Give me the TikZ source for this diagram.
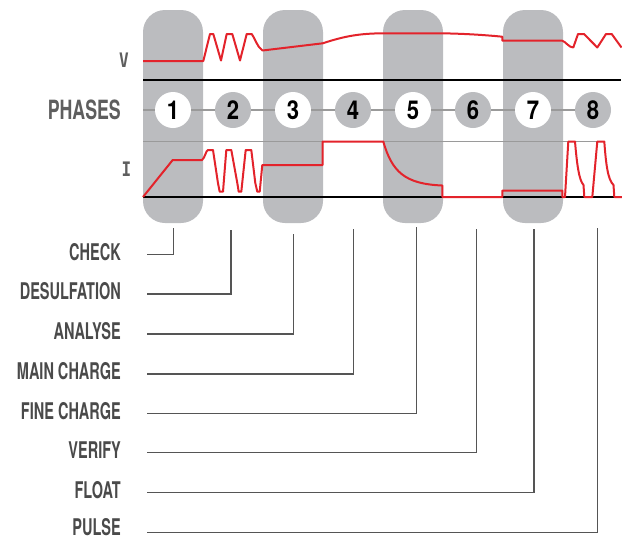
\documentclass[tikz,border=0pt]{standalone}
\usepackage{fontspec}
\newfontfamily\condf[FakeStretch=0.63]{TeX Gyre Heros Bold}
\newfontfamily\condp[FakeStretch=0.67]{TeX Gyre Heros Bold}
\newfontfamily\numf[FakeStretch=0.85]{TeX Gyre Heros Bold}
\newfontfamily\monof[FakeStretch=0.8]{DejaVu Sans Mono Bold}
\definecolor{colgray}{HTML}{BBBCBF}
\definecolor{chred}{HTML}{E3232B}
\definecolor{txtgray}{HTML}{4A4A4A}
\definecolor{phgray}{HTML}{5E5E5E}
\definecolor{thingray}{HTML}{9A9A9A}
\definecolor{leadgray}{HTML}{555555}
\tikzset{
  column/.style={fill=colgray, rounded corners=22pt},
  axisline/.style={black, line width=2pt},
  guide/.style={thingray, line width=1.5pt},
  phase/.style={circle, minimum size=36pt, inner sep=0pt, fill=colgray,
    font=\numf\fontsize{26}{26}\selectfont, text=black},
  oddphase/.style={phase, fill=white},
  curve/.style={chred, line width=2pt, line join=round},
  lab/.style={anchor=base east, inner sep=0pt, text=txtgray,
    font=\condf\fontsize{23}{23}\selectfont},
  axlab/.style={inner sep=0pt, text=phgray, font=\monof\fontsize{20}{20}\selectfont},
  leader/.style={leadgray, line width=1.3pt}
}
\begin{document}
\begin{tikzpicture}[x=1pt,y=-1pt]
\useasboundingbox (0,0) rectangle (622,539);
% columns
\foreach \cx in {143,263,383,503}
  \fill[column] (\cx,10) rectangle ++(60,213);
% axis lines
\draw[axisline] (143,80) -- (621,80);
\draw[guide] (143,110) -- (593,110);
\draw[guide] (143,141.5) -- (604,141.5);
\draw[axisline] (143,197) -- (621,197);
% labels of axes
\node[axlab] (vl) at (124,60) {V};
\node[axlab] (il) at (126.5,169.5) {I};
\node[anchor=east, inner sep=0pt, text=phgray, font=\condp\fontsize{26.5}{26.5}\selectfont] (ph) at (121,110) {PHASES};
% phases
\node[oddphase] (p1) at (173,110) {1};
\node[phase] (p2) at (233,110) {2};
\node[oddphase] (p3) at (293,110) {3};
\node[phase] (p4) at (353,110) {4};
\node[oddphase] (p5) at (413,110) {5};
\node[phase] (p6) at (473,110) {6};
\node[oddphase] (p7) at (533,110) {7};
\node[phase] (p8) at (593,110) {8};
% voltage curve
\draw[curve] (143,61) -- (203.3,61) -- (210,34) -- (213.3,34) -- (221,60.5)
  -- (226.7,34) -- (232.3,34) -- (240,60.5) -- (246.7,34) -- (251.7,34)
  .. controls (255,38) and (257,47) .. (262.5,50.5)
  -- (322.7,43.3) .. controls (345,36) and (360,33.3) .. (385,33.3)
  -- (442,33.3) .. controls (470,33.8) and (490,35.5) .. (502.3,36.7)
  -- (502.3,40.7) -- (562.3,40.7)
  .. controls (566,42) and (569,47.5) .. (573.3,47.5) -- (578,34) -- (584,34)
  -- (597.3,47.5) -- (606,34) -- (611.7,34) -- (621.5,47.5);
% current curve
\draw[curve] (143,197) -- (172.7,160) -- (202,160)
  .. controls (205,158) and (206,150) .. (208,150) -- (213,150)
  -- (218,183.3) -- (219.7,191.7) -- (223,191.7) -- (226.3,150) -- (231.3,150)
  -- (237.3,183) -- (238.7,191.7) -- (241.3,191.7) -- (245.7,150) -- (251.3,150)
  -- (255.3,183) -- (257.3,191.7) -- (259.7,191.7) -- (262.3,165)
  -- (322.7,165) -- (322.7,141.5) -- (383.3,141.5)
  .. controls (392,172) and (405,184) .. (442.3,185.5) -- (442.3,197)
  -- (502.3,197) -- (502.3,190.5) -- (562.3,190.5) -- (562.3,197) -- (565,197)
  -- (568.3,141.5) -- (575,141.5) .. controls (577,165) and (579,180) .. (583.5,185)
  -- (584.3,197) -- (592.3,197) -- (597.3,141.5) -- (604.3,141.5)
  .. controls (606,165) and (608,180) .. (613.5,185) -- (614.3,197) -- (622,197);
% phase labels
\node[lab] (l1) at (121,260) {CHECK};
\node[lab] (l2) at (121,299.7) {DESULFATION};
\node[lab] (l3) at (121,339.7) {ANALYSE};
\node[lab] (l4) at (121,379.7) {MAIN CHARGE};
\node[lab] (l5) at (121,419) {FINE CHARGE};
\node[lab] (l6) at (121,458.4) {VERIFY};
\node[lab] (l7) at (121,498.4) {FLOAT};
\node[lab] (l8) at (121,535.5) {PULSE};
% leader end points
\coordinate (s1) at (147,254.3); \coordinate (t1) at (173.3,227.7);
\coordinate (s2) at (147,294);   \coordinate (t2) at (231,230.3);
\coordinate (s3) at (147,334);   \coordinate (t3) at (293.3,234.3);
\coordinate (s4) at (147,374);   \coordinate (t4) at (353.7,229.3);
\coordinate (s5) at (147,413.3); \coordinate (t5) at (416.7,227.3);
\coordinate (s6) at (147,452.7); \coordinate (t6) at (476.7,229);
\coordinate (s7) at (147,492.7); \coordinate (t7) at (534,229);
\coordinate (s8) at (147,532.7); \coordinate (t8) at (597.3,227.7);
\foreach \i in {1,...,8}
  \draw[leader] (s\i) -| (t\i);
\end{tikzpicture}
\end{document}
